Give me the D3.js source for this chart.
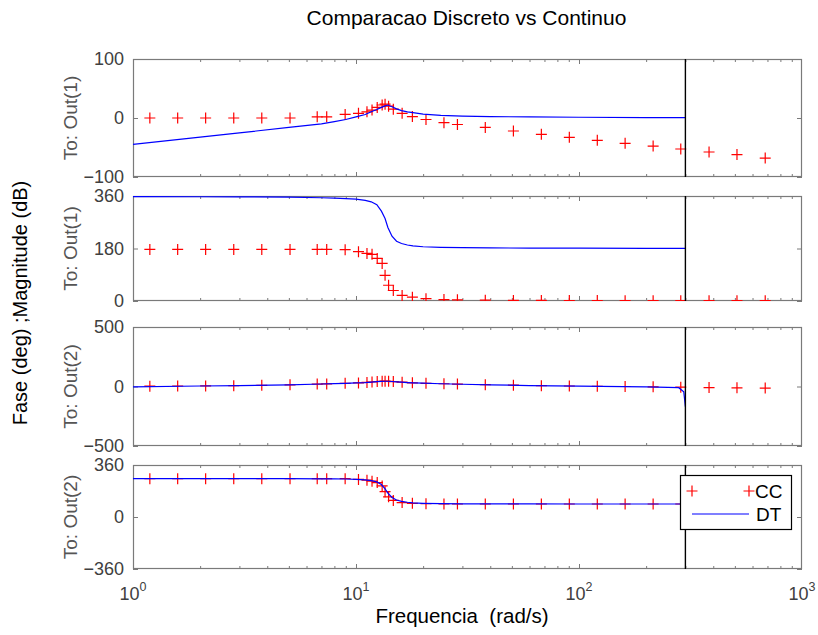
<!DOCTYPE html>
<html><head><meta charset="utf-8">
<script src="https://cdn.jsdelivr.net/npm/d3@7"></script>
<style>
body{margin:0;background:#fff}
text{font-family:"Liberation Sans",Arial,Helvetica,sans-serif}
</style>
</head><body>
<svg id="c" width="818" height="635"></svg>
<script>
// ---------- data ----------
const freqCC = [1.19, 1.586, 2.117, 2.83, 3.78, 5.06, 6.70, 7.39, 8.94, 10.26, 11.2, 11.8, 12.45, 13.1, 13.5, 14.0, 14.7, 16.1, 17.9, 20.6, 24.8, 28.5, 38.0, 50.8, 67.8, 90.5, 120.8, 161, 215, 286, 383, 511, 684];
const magCC1 = [0, 0, 0, 0, 0, 0, 2, 2, 6, 8, 10.5, 13.5, 18, 22, 23.5, 20, 15, 8, 2.5, -2.5, -8, -11, -16, -22, -27.6, -32.7, -37.8, -43, -47.5, -52.5, -57.6, -62, -68];
const phaseCC1 = [177, 177, 177, 177, 177, 177, 177, 177, 176, 169, 163, 160, 146, 129, 88, 54, 36, 19, 13, 8, 5, 4, 3, 2, 2, 1.5, 1.5, 1, 1, 1, 1, 1, 1];
const magCC2 = [3, 4, 5, 7, 10, 14, 20, 22, 27, 30, 34, 38, 42, 44, 45, 44, 41, 36, 31, 27, 23, 20, 15, 11, 7, 4, 2, 0, -3, -6, -9, -11, -13];
const phaseCC2 = [265, 265, 265, 265, 265, 265, 265, 265, 265, 260, 255, 248, 238, 215, 175, 140, 115, 100, 95, 92, 90, 90, 90, 90, 90, 90, 90, 90, 90, 90, 90, 90, 90];

const freqDT = [1, 2, 3, 5, 7, 8, 9, 10, 11, 11.7, 12.4, 13, 13.5, 13.9, 14.5, 15.2, 16, 17, 18, 20, 24, 30, 40, 60, 100, 200, 280, 295, 300];
const magDT1 = [-44.6, -32.4, -25.2, -16, -9.8, -6, -2.5, 1.8, 6, 10.5, 14.5, 18, 20.5, 22, 19, 15.5, 12.5, 10.5, 9, 6.5, 4.5, 3.2, 2.4, 1.8, 1.3, 0.8, 0.6, 0.5, 0.5];
const phaseDT1 = [358, 357.5, 357, 356, 354, 353, 351, 349, 345, 340, 330, 308, 283, 252, 222, 205, 197, 192, 189, 186, 184, 183, 182, 181.5, 181, 180.5, 180.3, 180.2, 180.2];
const magDT2 = [-3, 4, 7, 14, 21, 24, 27, 30, 33, 37, 41, 43, 44, 44, 42, 39, 36, 33, 31, 28, 23, 19, 14, 8, 3, -3, -10, -45, -170];
const phaseDT2 = [265, 265, 265, 265, 264.5, 264, 263, 261, 257, 252, 243, 225, 195, 165, 135, 118, 108, 102, 98, 95, 92.5, 91, 90.5, 90.2, 90, 90, 90, 90, 90];

const nyquist = 300;
const xTickValues = [1, 10, 100, 1000];
const xTickExp = ["0", "1", "2", "3"];
const panelLabels = ["To: Out(1)", "To: Out(1)", "To: Out(2)", "To: Out(2)"];
const yTicks1 = [-100, 0, 100];
const yTicks2 = [0, 180, 360];
const yTicks3 = [-500, 0, 500];
const yTicks4 = [-360, 0, 360];
const titleText = "Comparacao Discreto vs Continuo";
const xLabelText = "Frequencia  (rad/s)";
const yLabelText = "Fase (deg) ;Magnitude (dB)";
const legendNames = ["CC", "DT"];

// ---------- layout ----------
const svg = d3.select("#c");
const L = 133, R = 802;
const x = d3.scaleLog().domain([1, 1000]).range([L, R]);
const panels = [
  {top: 59, bottom: 177, domain: [-100, 100], ticks: yTicks1, cc: magCC1, dt: magDT1},
  {top: 196, bottom: 301, domain: [0, 360], ticks: yTicks2, cc: phaseCC1, dt: phaseDT1},
  {top: 327, bottom: 446, domain: [-500, 500], ticks: yTicks3, cc: magCC2, dt: magDT2},
  {top: 465, bottom: 569, domain: [-360, 360], ticks: yTicks4, cc: phaseCC2, dt: phaseDT2}
];
const frameColor = "#7a7a7a";
const tickText = "#404040";
const fmt = d => d < 0 ? "\u2212" + Math.abs(d) : String(d);

const minorVals = [];
for (let d = 0; d < 3; d++) for (let k = 2; k <= 9; k++) minorVals.push(k * Math.pow(10, d));
const majorVals = [10, 100];

const plusPath = "M-5.5,0H5.5M0,-5.5V5.5";

panels.forEach((p, i) => {
  const y = d3.scaleLinear().domain(p.domain).range([p.bottom, p.top]);
  const g = svg.append("g");
  const clipId = "clip" + i;
  svg.append("clipPath").attr("id", clipId).append("rect")
    .attr("x", L).attr("y", p.top).attr("width", R - L).attr("height", p.bottom - p.top);

  const mk = (axisFn, pos, vals, size) => {
    const a = g.append("g").attr("transform", `translate(0,${pos})`)
      .call(axisFn(x).tickValues(vals).tickSize(size).tickFormat(""));
    a.select(".domain").remove();
    a.selectAll("line").attr("stroke", frameColor).attr("stroke-width", 1);
  };
  mk(d3.axisBottom, p.bottom, minorVals, -3);
  mk(d3.axisBottom, p.bottom, majorVals, -5);
  mk(d3.axisTop, p.top, minorVals, -3);
  mk(d3.axisTop, p.top, majorVals, -5);

  const ya = g.append("g").attr("transform", `translate(${L},0)`)
    .call(d3.axisLeft(y).tickValues(p.ticks).tickSize(-5).tickPadding(9).tickFormat(fmt));
  ya.select(".domain").remove();
  ya.selectAll("line").attr("stroke", frameColor);
  ya.selectAll("text").attr("fill", tickText).style("font-size", "18px")
    .style("font-family", '"Liberation Sans",Arial,sans-serif');
  const yr = g.append("g").attr("transform", `translate(${R},0)`)
    .call(d3.axisRight(y).tickValues(p.ticks).tickSize(-5).tickFormat(""));
  yr.select(".domain").remove();
  yr.selectAll("line").attr("stroke", frameColor);

  g.append("rect").attr("x", L + 0.5).attr("y", p.top + 0.5)
    .attr("width", R - L - 1).attr("height", p.bottom - p.top - 1)
    .attr("fill", "none").attr("stroke", frameColor).attr("stroke-width", 1.2);

  const data = g.append("g").attr("clip-path", `url(#${clipId})`);
  data.selectAll("path.cc").data(freqCC.map((f, j) => [f, p.cc[j]])).join("path")
    .attr("class", "cc")
    .attr("transform", d => `translate(${x(d[0])},${y(d[1])})`)
    .attr("d", plusPath).attr("stroke", "#ff0000").attr("stroke-width", 1.2).attr("fill", "none");
  const line = d3.line().x(d => x(d[0])).y(d => y(d[1]));
  data.append("path").datum(freqDT.map((f, j) => [f, p.dt[j]]))
    .attr("d", line).attr("fill", "none").attr("stroke", "#0000ff").attr("stroke-width", 1.2);
  g.append("line").attr("x1", x(nyquist)).attr("x2", x(nyquist))
    .attr("y1", p.top).attr("y2", p.bottom).attr("stroke", "#000").attr("stroke-width", 1.4);

  const cy = (p.top + p.bottom) / 2;
  svg.append("text").attr("transform", `translate(77,${cy}) rotate(-90)`)
    .attr("text-anchor", "middle").attr("fill", "#555").style("font-size", "19px")
    .text(panelLabels[i]);

  if (i === panels.length - 1) {
    xTickValues.forEach((v, k) => {
      const t = svg.append("text").attr("x", x(v)).attr("y", p.bottom + 31)
        .attr("text-anchor", "middle").attr("fill", tickText).style("font-size", "18px");
      t.append("tspan").text("10");
      t.append("tspan").attr("dy", -9).style("font-size", "12.5px").text(xTickExp[k]);
    });
  }
});

// legend
const lg = svg.append("g");
lg.append("rect").attr("x", 680.5).attr("y", 475.5).attr("width", 111).attr("height", 54)
  .attr("fill", "#fff").attr("stroke", "#000").attr("stroke-width", 1.2);
[692, 749].forEach(px => lg.append("path").attr("transform", `translate(${px},491)`)
  .attr("d", plusPath).attr("stroke", "#ff0000").attr("stroke-width", 1.2).attr("fill", "none"));
lg.append("text").attr("x", 755).attr("y", 498).style("font-size", "19px").attr("fill", "#000").text(legendNames[0]);
lg.append("line").attr("x1", 692).attr("x2", 749).attr("y1", 514).attr("y2", 514)
  .attr("stroke", "#0000ff").attr("stroke-width", 1.2);
lg.append("text").attr("x", 756).attr("y", 521).style("font-size", "19px").attr("fill", "#000").text(legendNames[1]);

// titles
svg.append("text").attr("x", 466.5).attr("y", 25).attr("text-anchor", "middle")
  .style("font-size", "21px").attr("fill", "#000").text(titleText);
svg.append("text").attr("x", 462).attr("y", 623).attr("text-anchor", "middle")
  .style("font-size", "20.5px").style("white-space", "pre").attr("fill", "#000").text(xLabelText);
svg.append("text").attr("transform", "translate(27,303) rotate(-90)").attr("text-anchor", "middle")
  .style("font-size", "20px").attr("fill", "#000").text(yLabelText);
</script>
</body></html>
